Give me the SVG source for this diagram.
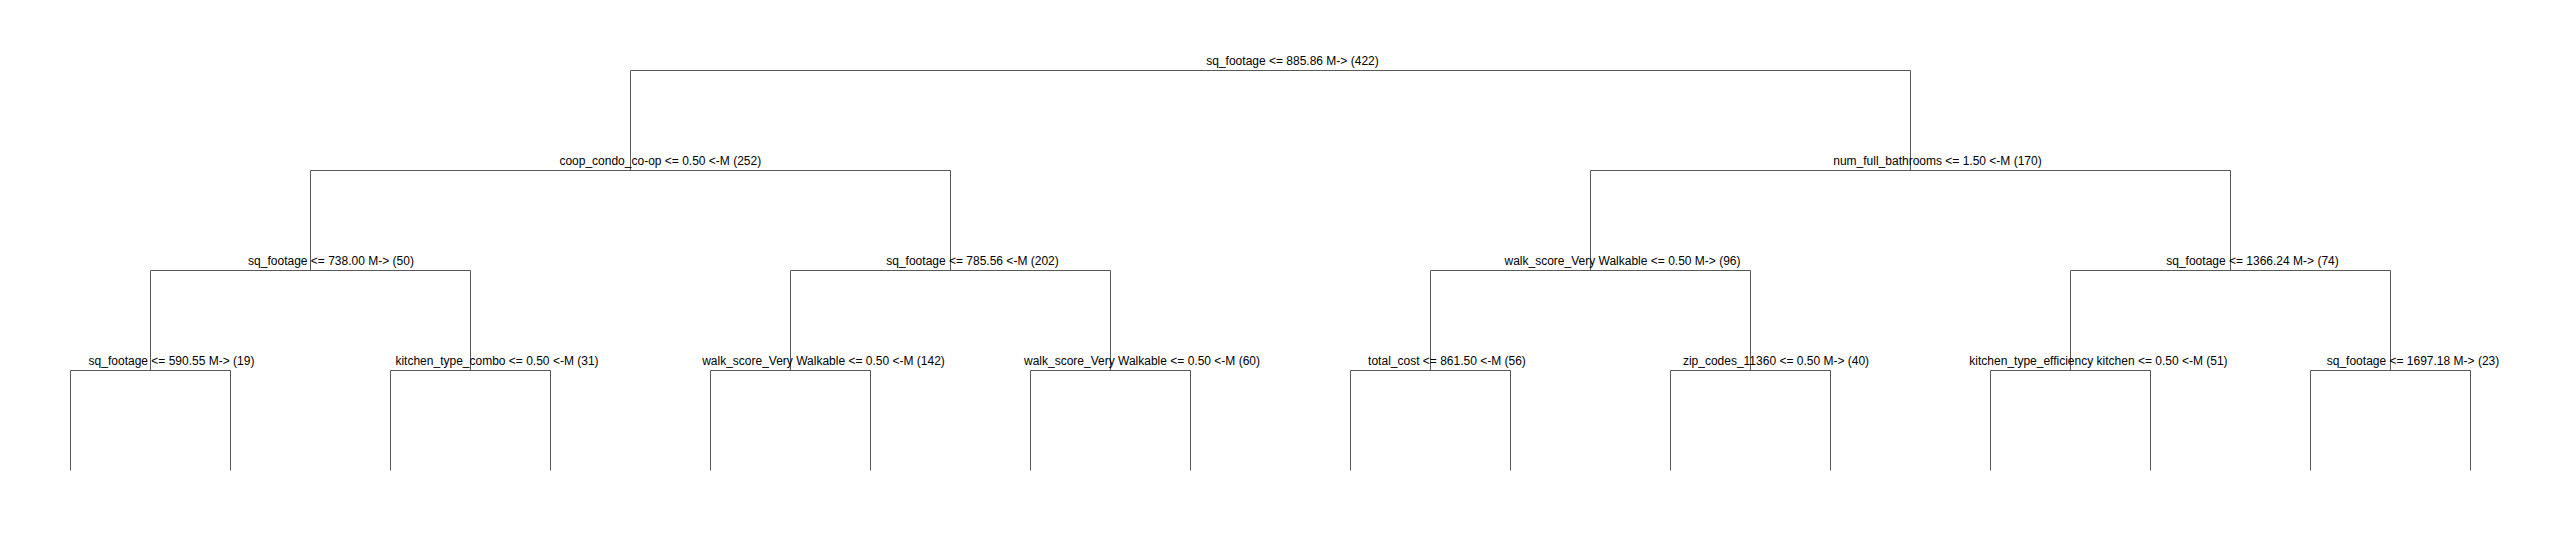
<svg xmlns="http://www.w3.org/2000/svg" width="2569" height="540" viewBox="0 0 2569 540">
<style>
.lbl{font-family:"Liberation Sans",Arial,sans-serif;font-size:12px;fill:#000;text-anchor:middle}
.edge{fill:none;stroke:#595959;stroke-width:1}
</style>
<rect x="0" y="0" width="2569" height="540" fill="#fff"/>
<g id="connectors">
<path class="edge" d="M630.5 170.5V70.5H1910.5V170.5"/>
<path class="edge" d="M310.5 270.5V170.5H950.5V270.5"/>
<path class="edge" d="M1590.5 270.5V170.5H2230.5V270.5"/>
<path class="edge" d="M150.5 370.5V270.5H470.5V370.5"/>
<path class="edge" d="M790.5 370.5V270.5H1110.5V370.5"/>
<path class="edge" d="M1430.5 370.5V270.5H1750.5V370.5"/>
<path class="edge" d="M2070.5 370.5V270.5H2390.5V370.5"/>
<path class="edge" d="M70.5 470.5V370.5H230.5V470.5"/>
<path class="edge" d="M390.5 470.5V370.5H550.5V470.5"/>
<path class="edge" d="M710.5 470.5V370.5H870.5V470.5"/>
<path class="edge" d="M1030.5 470.5V370.5H1190.5V470.5"/>
<path class="edge" d="M1350.5 470.5V370.5H1510.5V470.5"/>
<path class="edge" d="M1670.5 470.5V370.5H1830.5V470.5"/>
<path class="edge" d="M1990.5 470.5V370.5H2150.5V470.5"/>
<path class="edge" d="M2310.5 470.5V370.5H2470.5V470.5"/>
</g>
<g id="node-root"><text class="lbl" x="1292.5" y="64.5">sq_footage &lt;= 885.86 M-&gt; (422)</text></g>
<g id="node-L"><text class="lbl" x="660.3" y="164.5">coop_condo_co-op &lt;= 0.50 &lt;-M (252)</text></g>
<g id="node-R"><text class="lbl" x="1937.5" y="164.5">num_full_bathrooms &lt;= 1.50 &lt;-M (170)</text></g>
<g id="node-LL"><text class="lbl" x="331" y="264.5">sq_footage &lt;= 738.00 M-&gt; (50)</text></g>
<g id="node-LR"><text class="lbl" x="972.5" y="264.5">sq_footage &lt;= 785.56 &lt;-M (202)</text></g>
<g id="node-RL"><text class="lbl" x="1622.5" y="264.5">walk_score_Very Walkable &lt;= 0.50 M-&gt; (96)</text></g>
<g id="node-RR"><text class="lbl" x="2252.5" y="264.5">sq_footage &lt;= 1366.24 M-&gt; (74)</text></g>
<g id="node-LLL"><text class="lbl" x="171.5" y="364.5">sq_footage &lt;= 590.55 M-&gt; (19)</text></g>
<g id="node-LLR"><text class="lbl" x="497" y="364.5">kitchen_type_combo &lt;= 0.50 &lt;-M (31)</text></g>
<g id="node-LRL"><text class="lbl" x="823.5" y="364.5">walk_score_Very Walkable &lt;= 0.50 &lt;-M (142)</text></g>
<g id="node-LRR"><text class="lbl" x="1142" y="364.5">walk_score_Very Walkable &lt;= 0.50 &lt;-M (60)</text></g>
<g id="node-RLL"><text class="lbl" x="1447" y="364.5">total_cost &lt;= 861.50 &lt;-M (56)</text></g>
<g id="node-RLR"><text class="lbl" x="1776" y="364.5">zip_codes_11360 &lt;= 0.50 M-&gt; (40)</text></g>
<g id="node-RRL"><text class="lbl" x="2098.5" y="364.5">kitchen_type_efficiency kitchen &lt;= 0.50 &lt;-M (51)</text></g>
<g id="node-RRR"><text class="lbl" x="2413" y="364.5">sq_footage &lt;= 1697.18 M-&gt; (23)</text></g>
</svg>
